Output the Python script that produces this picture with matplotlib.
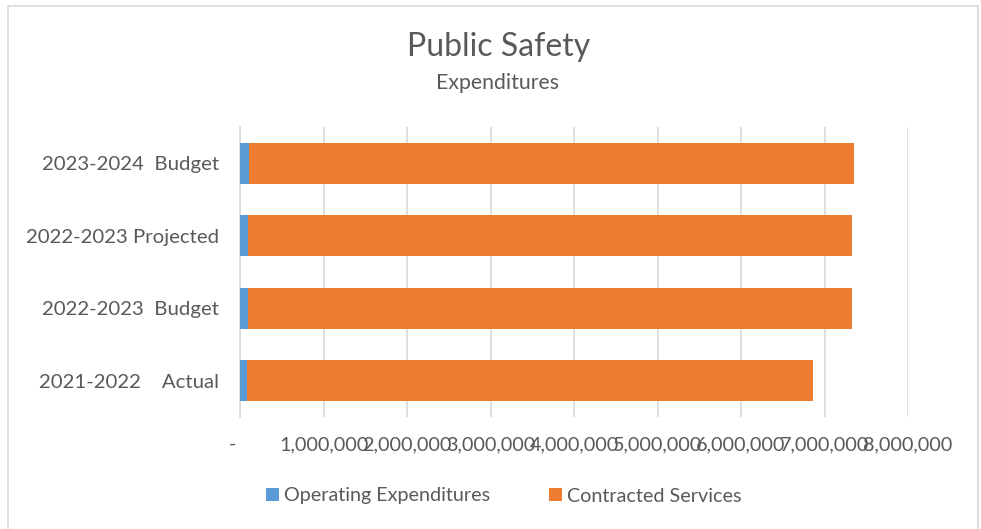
import matplotlib
matplotlib.use("Agg")
import matplotlib.pyplot as plt
from matplotlib.patches import Rectangle
from matplotlib.ticker import FuncFormatter

# chart data
categories = ["2021-2022    Actual", "2022-2023  Budget", "2022-2023 Projected", "2023-2024  Budget"]
operating = [87000, 91000, 91000, 103000]
contracted = [6780000, 7240000, 7240000, 7250000]
x_ticks = [0, 1000000, 2000000, 3000000, 4000000, 5000000, 6000000, 7000000, 8000000]

text_gray = "#595959"
blue = "#5B9BD5"
orange = "#ED7D31"

plt.rcParams['font.family'] = ['Lato', 'DejaVu Sans']

fig = plt.figure(figsize=(9.81, 5.29), dpi=100)
ax = fig.add_axes([240 / 981, 1 - 417 / 529, 668 / 981, 290 / 529])

# light border round the chart area
fig.patches.append(Rectangle((8 / 981, -0.05), 970 / 981, 1.05 - 6 / 529,
                             transform=fig.transFigure, fill=False,
                             edgecolor="#d9d9d9", linewidth=1.2))

ypos = list(range(len(categories)))
ax.barh(ypos, operating, height=0.57, color=blue, label="Operating Expenditures", zorder=3)
ax.barh(ypos, contracted, left=operating, height=0.57, color=orange,
        label="Contracted Services", zorder=3)

ax.set_xlim(0, 8000000)
ax.set_ylim(-0.5, len(categories) - 0.5)
ax.set_xticks(x_ticks)
ax.xaxis.set_major_formatter(FuncFormatter(lambda v, p: "-   " if v == 0 else f"{int(v):,}"))
ax.set_yticks(ypos)
ax.set_yticklabels(categories)
ax.tick_params(axis="x", length=0, labelsize=14.3, colors=text_gray, pad=14)
ax.tick_params(axis="y", length=0, labelsize=14.7, colors=text_gray, pad=15)
ax.grid(axis="x", color="#d9d9d9", linewidth=1.2, zorder=0)
for s in ["top", "right", "bottom"]:
    ax.spines[s].set_visible(False)
ax.spines["left"].set_color("#d9d9d9")
ax.spines["left"].set_linewidth(1.2)

fig.text(499 / 981, 1 - 47 / 529, "Public Safety", ha="center", va="center", fontsize=23, color=text_gray)
fig.text(498 / 981, 1 - 83 / 529, "Expenditures", ha="center", va="center", fontsize=15.3, color=text_gray)

fig.legend(loc="center", bbox_to_anchor=(504 / 981, 1 - 496 / 529), ncol=2, frameon=False,
           fontsize=14.2, labelcolor=text_gray, handlelength=0.65, handleheight=0.65,
           handletextpad=0.25, columnspacing=3.0)

fig.savefig("out.png", dpi=100)
